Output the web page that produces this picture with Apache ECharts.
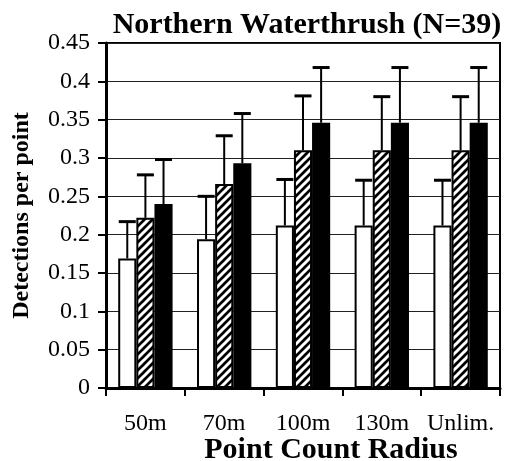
<!DOCTYPE html>
<html><head><meta charset="utf-8">
<script src="https://cdn.jsdelivr.net/npm/echarts@6/dist/echarts.min.js"></script>
<style>html,body{margin:0;padding:0;background:#fff}#c{width:509px;height:461px}</style>
</head><body><div id="c"></div>
<script>
const categories = ['50m', '70m', '100m', '130m', 'Unlim.'];
const openBars = [0.169, 0.194, 0.212, 0.212, 0.212];
const openErrTop = [0.217, 0.250, 0.272, 0.271, 0.271];
const hatchBars = [0.222, 0.266, 0.310, 0.310, 0.310];
const hatchErrTop = [0.278, 0.329, 0.381, 0.380, 0.380];
const solidBars = [0.240, 0.293, 0.346, 0.346, 0.346];
const solidErrTop = [0.298, 0.358, 0.418, 0.418, 0.418];

const FONT = '"Liberation Serif", "Times New Roman", serif';
const BAR_FRAC = 0.23;

function hatch() {
  const s = 8, c = document.createElement('canvas');
  c.width = s; c.height = s;
  const g = c.getContext('2d');
  g.fillStyle = '#000'; g.fillRect(0, 0, s, s);
  g.strokeStyle = '#fff'; g.lineWidth = 3;
  g.beginPath();
  g.moveTo(-2, s + 2); g.lineTo(s + 2, -2);
  g.moveTo(-2, 2); g.lineTo(2, -2);
  g.moveTo(s - 2, s + 2); g.lineTo(s + 2, s - 2);
  g.stroke();
  return c;
}

const errData = [];
[[openBars, openErrTop], [hatchBars, hatchErrTop], [solidBars, solidErrTop]].forEach((pair, k) => {
  pair[0].forEach((v, i) => errData.push([i, v, pair[1][i], k]));
});

const chart = echarts.init(document.getElementById('c'), null, {renderer: 'canvas'});
const barStyle = {borderColor: '#000', borderWidth: 2};
chart.setOption({
  animation: false,
  backgroundColor: '#fff',
  title: {
    text: 'Northern Waterthrush (N=39)', left: 302, top: 5, textAlign: 'center',
    textStyle: {fontFamily: FONT, fontWeight: 'bold', fontSize: 30, color: '#000'}
  },
  grid: {left: 106, right: 9, top: 43, bottom: 73, show: true, borderColor: '#000', borderWidth: 2, backgroundColor: 'transparent', containLabel: false, outerBoundsMode: 'none'},
  xAxis: {
    type: 'category', data: categories,
    axisLine: {lineStyle: {color: '#000', width: 3}},
    axisTick: {show: true, length: 8, lineStyle: {color: '#000', width: 2}},
    axisLabel: {fontFamily: FONT, fontSize: 24, color: '#000', margin: 24, interval: 0, hideOverlap: false},
    name: 'Point Count Radius', nameLocation: 'middle', nameGap: 47, nameMoveOverlap: false,
    nameTextStyle: {fontFamily: FONT, fontWeight: 'bold', fontSize: 30, color: '#000', padding: [0, 0, 0, 56]}
  },
  yAxis: {
    type: 'value', min: 0, max: 0.45, interval: 0.05,
    axisLine: {show: true, lineStyle: {color: '#000', width: 3}},
    axisTick: {show: true, length: 8, lineStyle: {color: '#000', width: 2}},
    axisLabel: {fontFamily: FONT, fontSize: 24, color: '#000', margin: 16},
    splitLine: {show: true, lineStyle: {color: '#222', width: 1}},
    name: 'Detections per point', nameLocation: 'middle', nameGap: 72, nameMoveOverlap: false,
    nameTextStyle: {fontFamily: FONT, fontWeight: 'bold', fontSize: 24, color: '#000'}
  },
  series: [
    {type: 'bar', data: openBars, barWidth: (BAR_FRAC * 100) + '%', barGap: '0%', itemStyle: Object.assign({color: '#fff'}, barStyle)},
    {type: 'bar', data: hatchBars, barWidth: (BAR_FRAC * 100) + '%', barGap: '0%', itemStyle: Object.assign({color: {image: hatch(), repeat: 'repeat'}}, barStyle)},
    {type: 'bar', data: solidBars, barWidth: (BAR_FRAC * 100) + '%', barGap: '0%', itemStyle: Object.assign({color: '#000'}, barStyle)},
    {
      type: 'custom', data: errData, z: 5,
      encode: {x: 0, y: [1, 2]},
      renderItem: function (params, api) {
        const cat = api.value(0), lo = api.value(1), hi = api.value(2), k = api.value(3);
        const band = api.size([1, 0])[0];
        const bw = band * BAR_FRAC;
        const x = api.coord([cat, 0])[0] + (k - 1) * bw;
        const y1 = api.coord([cat, lo])[1], y2 = api.coord([cat, hi])[1];
        const hw = 8.5;
        return {type: 'group', children: [
          {type: 'line', shape: {x1: x, y1: y1, x2: x, y2: y2}, style: {stroke: '#000', lineWidth: 2}},
          {type: 'line', shape: {x1: x - hw, y1: y2, x2: x + hw, y2: y2}, style: {stroke: '#000', lineWidth: 3}}
        ]};
      }
    }
  ]
});
</script></body></html>
